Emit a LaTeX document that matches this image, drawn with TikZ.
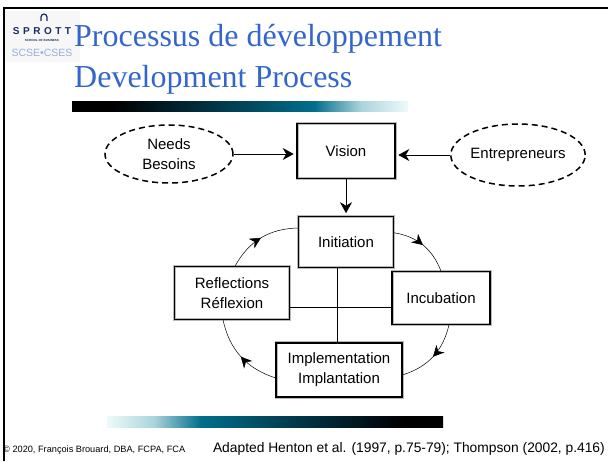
\documentclass[tikz,border=0pt]{standalone}
\usepackage{fontspec}
\setmainfont{Liberation Sans}
\newfontfamily\titlefont{Liberation Serif}
\usetikzlibrary{shapes.geometric,arrows.meta,decorations.markings}
\definecolor{titleblue}{RGB}{51,102,204}
\definecolor{logonavy}{RGB}{25,45,95}
\definecolor{logosky}{RGB}{150,175,220}
\definecolor{bardark}{RGB}{0,45,60}
\definecolor{barteal}{RGB}{0,110,140}
\definecolor{barlight}{RGB}{170,212,220}
\definecolor{barpale}{RGB}{238,250,250}
\pgfdeclarehorizontalshading{tealbar}{100bp}{color(0bp)=(black); color(25bp)=(black);
  color(31bp)=(black); color(44bp)=(bardark); color(61bp)=(barteal); color(68bp)=(barlight);
  color(75bp)=(barpale); color(100bp)=(barpale)}
\pgfdeclarehorizontalshading{tealbarrev}{100bp}{color(0bp)=(barpale); color(25bp)=(barpale);
  color(32bp)=(barlight); color(39bp)=(barteal); color(56bp)=(bardark); color(69bp)=(black);
  color(75bp)=(black); color(100bp)=(black)}

\begin{document}
\begin{tikzpicture}[x=1pt,y=1pt,
    every node/.style={font=\fontsize{15}{20}\selectfont, align=center, inner sep=0pt},
    stage/.style={rectangle, draw=gray!55, line width=0.6pt, double=black,
      double distance=1.8pt, fill=white},
    source/.style={ellipse, draw, dash pattern=on 6pt off 4pt, line width=1.5pt},
    feed/.style={-{Stealth[length=11pt,width=12pt,inset=3.5pt]}, line width=0.8pt, shorten >=3pt},
    loopline/.style={line width=0.5pt, postaction={decorate},
      decoration={markings, mark=at position 0.5 with
        {\arrow{Stealth[length=11pt,width=11pt,inset=3.5pt]}}}}]
    \useasboundingbox (0,0) rectangle (608,461);
    % frame
    \draw[line width=2pt] (4,0) -- (4,452.5) -- (608,452.5);
    % logo
    \fill[gray!6] (5,399) rectangle (80,450);
    \draw[logonavy, line width=1.2pt] (41,440) -- (41,444) arc(180:0:3) -- (47,440);
    \node[font=\bfseries\fontsize{10}{10}\selectfont, text=logonavy] (sprott) at (42,430)
      {S\kern3.5pt P\kern3.5pt R\kern3.5pt O\kern3.5pt T\kern3.5pt T};
    \node[font=\bfseries\fontsize{3}{3}\selectfont, text=logonavy] (school) at (42,421)
      {SCHOOL OF BUSINESS};
    \node[font=\fontsize{10.5}{10.5}\selectfont, text=logosky] (scse) at (42,408) {SCSE•CSES};
    % title
    \node[anchor=base west, font=\titlefont\fontsize{32}{32}\selectfont, text=titleblue]
      (title) at (74,414) {Processus de développement};
    \node[anchor=base west, font=\titlefont\fontsize{32}{32}\selectfont, text=titleblue]
      (subtitle) at (74,373) {Development Process};
    \shade[shading=tealbar] (72,349) rectangle (408,359);
    \shade[shading=tealbarrev] (107,34) rectangle (443,45);

    % sources and vision
    \node[source, minimum width=128pt, minimum height=58pt] (needs) at (169,307) {Needs\\Besoins};
    \node[stage, minimum width=98pt, minimum height=55pt] (vision) at (346,310) {Vision};
    \node[source, minimum width=131pt, minimum height=62pt] (entre) at (518,306) {Entrepreneurs};
    \draw[feed] (needs.east) -- (needs.east -| vision.west);
    \draw[feed] (entre.west) -- (entre.west -| vision.east);

    % cycle
    \coordinate (hub) at (337,154);
    \node[stage, minimum width=95pt, minimum height=51pt] (ini) at (346,219) {Initiation};
    \node[stage, minimum width=115pt, minimum height=53pt] (refl) at (232,168) {Reflections\\Réflexion};
    \node[stage, minimum width=98pt, minimum height=53pt] (inc) at (441,163) {Incubation};
    \node[stage, minimum width=126pt, minimum height=54pt] (imp) at (339,91) {Implementation\\Implantation};
    \draw[feed] (vision.south) -- (ini.north);
    \draw[line width=0.6pt] (ini.south -| hub) -- (imp.north -| hub);
    \draw[line width=0.6pt] (refl.east |- hub) -- (inc.west |- hub);
    \draw[loopline] (ini.11) to[bend left=30] (inc.north);
    \draw[loopline] ([xshift=8pt]inc.south) to[bend left=30] ([yshift=-5pt]imp.east);
    \draw[loopline] ([yshift=-8pt]imp.west) to[bend left=30] ([xshift=-9pt]refl.south);
    \draw[loopline] ([xshift=3pt]refl.north) to[bend left=30] ([yshift=14pt]ini.west);

    % footer
    \node[anchor=base west, font=\fontsize{9.2}{9.2}\selectfont] (copy) at (3,9)
      {© 2020, François Brouard, DBA, FCPA, FCA};
    \node[anchor=base east, font=\fontsize{13.8}{13.8}\selectfont] (cite) at (605,9)
      {Adapted Henton et al. (1997, p.75-79); Thompson (2002, p.416)};
\end{tikzpicture}
\end{document}
